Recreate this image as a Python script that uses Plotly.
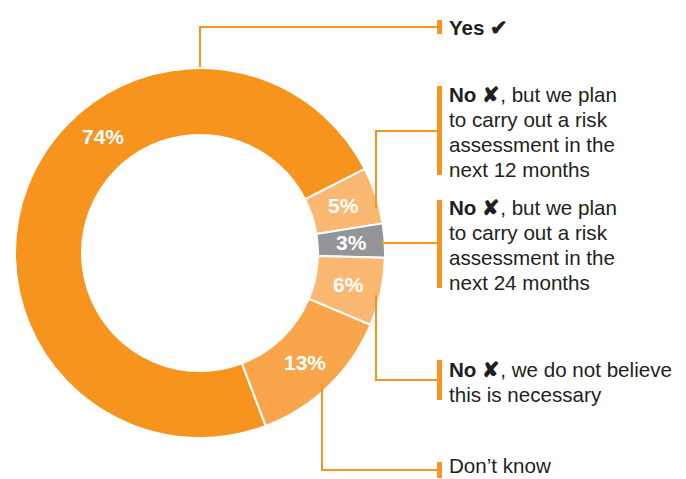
import math
import plotly.graph_objects as go

# ---- data ----
categories = ["Yes", "No, plan 12 months", "No, plan 24 months", "No, not necessary", "Don't know"]
values = [74, 5, 3, 6, 13]
value_labels = ["74%", "5%", "3%", "6%", "13%"]
legend_lines = [
    ["<b>Yes</b> <b>✔</b>"],
    ["<b>No</b> <b>✘</b>, but we plan", "to carry out a risk", "assessment in the", "next 12 months"],
    ["<b>No</b> <b>✘</b>, but we plan", "to carry out a risk", "assessment in the", "next 24 months"],
    ["<b>No</b> <b>✘</b>, we do not believe", "this is necessary"],
    ["Don’t know"],
]
colors = ["#F7941E", "#FBB872", "#939598", "#FBB872", "#F9A54B"]

# ---- layout geometry (pixels) ----
W, H = 686, 479
CX, CY, R_OUT, R_IN = 200, 253, 185, 118
ROTATION = 159.2          # clockwise degrees from 12 o'clock where first slice starts
label_frac = [0.61, 0.5, 0.5, 0.5, 0.5]
ORANGE = "#F7941E"
TEXT = "#231F20"
FONT = "Liberation Sans, Arial, Helvetica, sans-serif"
LINE_STEP = 25


def px(x):
    return x / W


def py(y):
    return 1 - y / H


fig = go.Figure()
fig.add_trace(go.Pie(
    labels=categories, values=values, sort=False, direction="clockwise",
    rotation=ROTATION, hole=R_IN / R_OUT,
    marker=dict(colors=colors, line=dict(color="white", width=2)),
    textinfo="none", hoverinfo="label+percent", showlegend=False,
    domain=dict(x=[px(CX - R_OUT), px(CX + R_OUT)], y=[py(CY + R_OUT), py(CY - R_OUT)]),
))

# percentage labels, positioned from the slice angles
total = sum(values)
start = ROTATION
annotations = []
r_mid = (R_IN + R_OUT) / 2
for v, lab, f in zip(values, value_labels, label_frac):
    span = v / total * 360
    a = math.radians(start + span * f)
    x = CX + r_mid * math.sin(a)
    y = CY - r_mid * math.cos(a)
    annotations.append(dict(x=px(x), y=py(y), xref="paper", yref="paper", text=f"<b>{lab}</b>",
                            showarrow=False, font=dict(family=FONT, size=21, color="white"),
                            xanchor="center", yanchor="middle"))
    start += span

# leader lines and legend texts
leaders = [
    [(200, 67), (200, 27), (437, 27)],
    [(376, 208), (376, 131), (437, 131)],
    [(382, 243), (437, 243)],
    [(376, 295), (376, 380), (437, 380)],
    [(322, 384), (322, 470), (437, 470)],
]
bars = [(20, 34), (86, 175), (200, 288), (360, 400), (462, 478)]
first_line_y = [28, 94, 207, 369, 465]

shapes = []
for pts in leaders:
    path = "M " + " L ".join(f"{px(x)},{py(y)}" for x, y in pts)
    shapes.append(dict(type="path", path=path, xref="paper", yref="paper",
                       line=dict(color=ORANGE, width=2)))
for (y0, y1) in bars:
    shapes.append(dict(type="rect", x0=px(437), x1=px(442), y0=py(y1), y1=py(y0),
                       xref="paper", yref="paper", fillcolor=ORANGE, line=dict(width=0)))
for lines, y0 in zip(legend_lines, first_line_y):
    for i, t in enumerate(lines):
        annotations.append(dict(x=px(447), y=py(y0 + i * LINE_STEP), xref="paper", yref="paper",
                                text=t, showarrow=False, align="left", xanchor="left",
                                yanchor="middle", font=dict(family=FONT, size=20.6, color=TEXT)))

fig.update_layout(
    width=W, height=H, margin=dict(l=0, r=0, t=0, b=0),
    paper_bgcolor="white", plot_bgcolor="white",
    shapes=shapes, annotations=annotations,
)
fig.write_html("out.html", config={"displayModeBar": False},
               post_script="document.body.style.margin='0';")
